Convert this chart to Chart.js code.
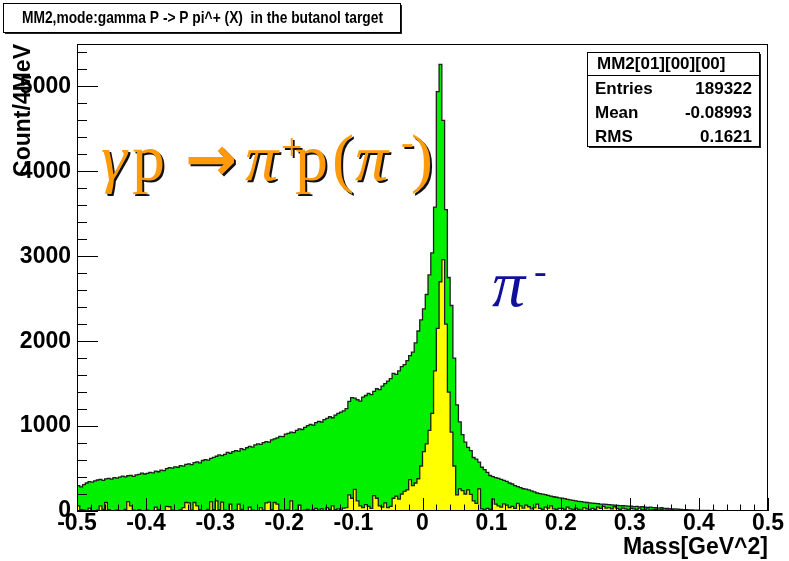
<!DOCTYPE html>
<html lang="en">
<head>
<meta charset="UTF-8">
<title>MM2 butanol target</title>
<script src="https://cdn.jsdelivr.net/npm/chart.js"></script>
<style>
  body { margin: 0; background: #fff; }
  canvas { display: block; }
</style>
</head>
<body>
<canvas id="mm2Canvas" width="789" height="561"></canvas>
<script>
// binning of the missing mass squared, GeV^2 (4 MeV bins)
const binStart = -0.5;
const binWidth = 0.004;

// all events (green), one row per 0.1 GeV^2
const allCounts = [
  300, 285, 310, 330, 345, 340, 355, 365, 372, 360, 378, 385, 376, 392, 388, 398, 410, 402, 415, 420, 408, 425, 432, 445, 436,
  442, 455, 448, 470, 462, 482, 476, 498, 512, 505, 520, 515, 535, 528, 548, 556, 545, 570, 578, 566, 595, 605, 598, 620, 632,
  645, 660, 652, 668, 690, 680, 700, 712, 705, 735, 722, 745, 760, 752, 778, 790, 785, 805, 818, 812, 838, 850, 862, 880, 875,
  905, 915, 930, 922, 950, 968, 960, 985, 1005, 1020, 1012, 1040, 1055, 1048, 1075, 1090, 1110, 1098, 1130, 1150, 1165, 1180, 1205, 1290, 1335,
  1330, 1310, 1295, 1340, 1360, 1385, 1370, 1410, 1440, 1430, 1470, 1500, 1530, 1560, 1620, 1610, 1650, 1700, 1725, 1770, 1830, 1870, 1980, 2120, 2250,
  2380, 2550, 2780, 3040, 3580, 4940, 5260, 4600, 3550, 2750, 2420, 1800, 1250, 1050, 900, 810, 750, 710, 630, 612, 575, 515, 488, 455, 418,
  405, 392, 385, 372, 360, 348, 330, 318, 300, 288, 275, 262, 258, 248, 236, 226, 212, 205, 198, 192, 185, 176, 168, 162, 155,
  152, 145, 138, 130, 125, 120, 114, 110, 104, 100, 96, 92, 90, 86, 82, 80, 77, 74, 72, 70, 67, 64, 62, 60, 58,
  56, 52, 55, 48, 50, 45, 42, 46, 40, 38, 35, 38, 32, 30, 28, 26, 24, 22, 20, 17, 15, 13, 12, 10, 9,
  8, 7, 8, 6, 5, 6, 5, 4, 5, 3, 4, 3, 2, 3, 2, 2, 3, 1, 2, 1, 2, 1, 1, 0, 1
];

// events passing the cut (yellow)
const cutCounts = [
  60, 15, 10, 0, 35, 5, 0, 10, 60, 20, 100, 15, 5, 0, 10, 0, 5, 20, 110, 60, 10, 0, 15, 5, 0,
  10, 5, 0, 45, 20, 5, 0, 55, 50, 10, 5, 0, 15, 40, 100, 95, 10, 100, 60, 15, 5, 0, 20, 110, 15,
  120, 15, 105, 10, 5, 80, 0, 10, 80, 20, 5, 0, 45, 10, 5, 0, 40, 10, 95, 105, 15, 100, 80, 10, 5,
  10, 15, 120, 5, 10, 70, 0, 10, 20, 5, 15, 30, 10, 25, 5, 40, 20, 60, 15, 25, 10, 35, 40, 190, 150,
  255, 120, 60, 40, 75, 55, 30, 180, 150, 60, 45, 95, 40, 55, 150, 175, 140, 200, 230, 250, 370, 300, 330, 380, 530,
  700, 790, 950, 1150, 1650, 2150, 2700, 2960, 2200, 1400, 930, 530, 190, 260, 240, 200, 250, 195, 120, 90, 260, 25, 15, 30, 20,
  140, 80, 60, 45, 85, 70, 40, 55, 30, 90, 60, 35, 70, 50, 25, 40, 80, 30, 20, 45, 35, 60, 25, 20, 30,
  30, 20, 45, 25, 15, 35, 20, 10, 40, 25, 15, 30, 20, 45, 30, 55, 35, 40, 25, 50, 30, 20, 35, 25, 15,
  30, 25, 20, 35, 15, 20, 25, 10, 15, 20, 10, 15, 8, 12, 10, 15, 5, 10, 8, 5, 6, 4, 5, 3, 2,
  2, 1, 0, 1, 0, 0, 1, 0, 0, 0, 1, 0, 0, 0, 0, 0, 0, 0, 0, 0, 0, 0, 0, 0, 0
];

const xRange = [-0.5, 0.5];
const yMax = 5500;
const xTickValues = [-0.5, -0.4, -0.3, -0.2, -0.1, 0, 0.1, 0.2, 0.3, 0.4, 0.5];
const yTickValues = [0, 1000, 2000, 3000, 4000, 5000];

const histTitle = 'MM2,mode:gamma P -> P pi^+ (X)  in the butanol target';
const statsName = 'MM2[01][00][00]';
const statsRows = [['Entries', '189322'], ['Mean', '-0.08993'], ['RMS', '0.1621']];

const boldFont = size => ({ family: 'Liberation Sans', size: size, weight: 'bold' });

// histogram as step points at the low edge of each bin, plus the closing edge
function toSteps(counts) {
  const pts = counts.map((c, i) => ({ x: binStart + i * binWidth, y: c }));
  pts.push({ x: binStart + counts.length * binWidth, y: counts[counts.length - 1] });
  return pts;
}

function pave(ctx, x0, y0, x1, y1) {
  ctx.fillStyle = '#222';
  ctx.fillRect(x0 + 2, y0 + 2, x1 - x0, y1 - y0);
  ctx.fillStyle = '#fff';
  ctx.fillRect(x0, y0, x1 - x0, y1 - y0);
  ctx.strokeStyle = '#000';
  ctx.lineWidth = 1;
  ctx.strokeRect(x0 + 0.5, y0 + 0.5, x1 - x0, y1 - y0);
}

// squeeze a string into a given width, left aligned at x
function fitText(ctx, text, x, y, width) {
  const w = ctx.measureText(text).width;
  ctx.save();
  ctx.textAlign = 'left';
  ctx.translate(x, y);
  ctx.scale(Math.min(1, width / w), 1);
  ctx.fillText(text, 0, 0);
  ctx.restore();
}

// inward ticks and the frame, drawn over the histograms
const frameTicks = {
  id: 'frameTicks',
  afterDatasetsDraw(chart) {
    const { ctx, chartArea: a, scales: { x, y } } = chart;
    ctx.save();
    ctx.strokeStyle = '#000';
    ctx.lineWidth = 1;
    ctx.beginPath();
    for (let v = 0; v < yMax; v += 200) {
      const py = Math.round(y.getPixelForValue(v)) + 0.5;
      const len = v % 1000 === 0 ? 21 : 10;
      ctx.moveTo(a.left, py);
      ctx.lineTo(a.left + len, py);
    }
    for (let i = 0; i <= 50; i++) {
      const px = Math.round(x.getPixelForValue(xRange[0] + i * 0.02)) + 0.5;
      const len = i % 5 === 0 ? 13 : 6.5;
      ctx.moveTo(px, a.bottom);
      ctx.lineTo(px, a.bottom - len);
    }
    ctx.stroke();
    ctx.strokeRect(a.left + 0.5, a.top + 0.5, a.right - a.left - 1, a.bottom - a.top - 1);
    ctx.restore();
  }
};

const labels = {
  id: 'labels',
  afterDraw(chart) {
    const ctx = chart.ctx;
    ctx.save();
    ctx.textBaseline = 'middle';

    // title pave
    pave(ctx, 3, 3, 400, 32);
    ctx.fillStyle = '#000';
    ctx.font = 'bold 17px "Liberation Sans"';
    fitText(ctx, histTitle, 22, 18, 361);

    // statistics pave
    pave(ctx, 587, 52, 759, 146);
    ctx.beginPath();
    ctx.moveTo(587, 75.5);
    ctx.lineTo(760, 75.5);
    ctx.stroke();
    ctx.fillStyle = '#000';
    ctx.font = 'bold 17px "Liberation Sans"';
    fitText(ctx, statsName, 597, 64, 153);
    statsRows.forEach(([name, val], i) => {
      const ry = 89 + i * 24;
      ctx.textAlign = 'left';
      ctx.fillText(name, 595, ry);
      ctx.textAlign = 'right';
      ctx.fillText(val, 752, ry);
    });

    // reaction label with a drop shadow
    const serif = '"Liberation Serif"';
    const pieces = [
      ['\u03b3', 101, 180, 'italic 66px ' + serif],
      ['p', 132, 180, '66px ' + serif],
      ['\u2192', 185, 180, 'bold 62px "DejaVu Sans"'],
      ['\u03c0', 245, 180, 'italic 66px ' + serif],
      ['+', 281, 160, '38px ' + serif],
      ['p', 295, 180, '66px ' + serif],
      ['(', 332, 180, '66px ' + serif],
      ['\u03c0', 355, 180, 'italic 66px ' + serif],
      ['-', 401, 155, '38px ' + serif],
      [')', 411, 180, '66px ' + serif]
    ];
    ctx.textAlign = 'left';
    ctx.textBaseline = 'alphabetic';
    pieces.forEach(([t, px, py, f]) => {
      ctx.font = f;
      ctx.fillStyle = '#111';
      ctx.fillText(t, px + 2, py + 2);
      ctx.fillStyle = '#ff9a0a';
      ctx.fillText(t, px, py);
    });

    // missing particle
    ctx.fillStyle = '#10109a';
    ctx.font = 'italic 66px ' + serif;
    ctx.fillText('\u03c0', 492, 306);
    ctx.font = '38px ' + serif;
    ctx.fillText('-', 534, 284);

    ctx.restore();
  }
};

new Chart(document.getElementById('mm2Canvas'), {
  type: 'line',
  data: {
    datasets: [
      {
        label: 'cut',
        data: toSteps(cutCounts),
        stepped: true,
        fill: 'origin',
        backgroundColor: '#ffff00',
        borderColor: '#1e1e1e',
        borderWidth: 1.3,
        pointRadius: 0,
        order: 0
      },
      {
        label: 'all',
        data: toSteps(allCounts),
        stepped: true,
        fill: 'origin',
        backgroundColor: '#00f000',
        borderColor: '#1e1e1e',
        borderWidth: 1.3,
        pointRadius: 0,
        order: 1
      }
    ]
  },
  options: {
    responsive: false,
    animation: false,
    layout: { padding: { left: 0, right: 21, top: 44, bottom: 0 } },
    plugins: { legend: { display: false }, tooltip: { enabled: false } },
    scales: {
      x: {
        type: 'linear',
        min: xRange[0],
        max: xRange[1],
        afterFit: s => { s.height = 50; },
        afterBuildTicks: s => { s.ticks = xTickValues.map(v => ({ value: v })); },
        grid: { display: false, drawTicks: false },
        border: { display: false },
        ticks: {
          autoSkip: false,
          maxRotation: 0,
          padding: 1,
          color: '#000',
          font: { ...boldFont(23), lineHeight: 1 },
          callback: v => (v === 0 ? '0' : v.toFixed(1))
        },
        title: {
          display: true,
          text: 'Mass[GeV^2]',
          align: 'end',
          color: '#000',
          font: boldFont(23),
          padding: 0
        }
      },
      y: {
        min: 0,
        max: yMax,
        afterFit: s => { s.width = 77; },
        afterBuildTicks: s => { s.ticks = yTickValues.map(v => ({ value: v })); },
        grid: { display: false, drawTicks: false },
        border: { display: false },
        ticks: {
          autoSkip: false,
          padding: 6,
          color: '#000',
          font: boldFont(23),
          callback: v => String(v)
        },
        title: {
          display: true,
          text: 'Count/4MeV',
          align: 'end',
          color: '#000',
          font: boldFont(23),
          padding: { top: 10, bottom: 0 }
        }
      }
    }
  },
  plugins: [frameTicks, labels]
});
</script>
</body>
</html>
